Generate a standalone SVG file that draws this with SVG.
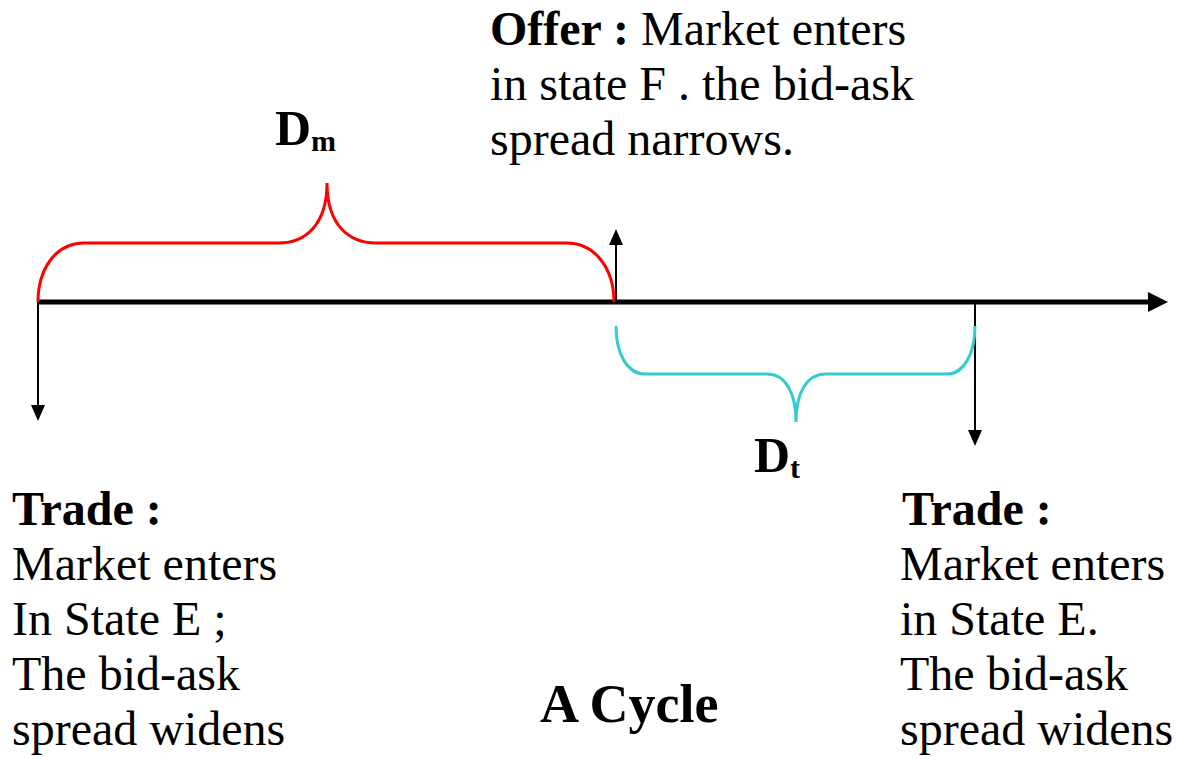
<svg xmlns="http://www.w3.org/2000/svg" width="1179" height="758" viewBox="0 0 1179 758">
  <style>
    text { font-family: "Liberation Serif", "Times New Roman", serif; fill: #000; }
    .t { font-size: 48px; }
    .b { font-weight: bold; }
    .thin { stroke: #000; stroke-width: 2; fill: none; }
    .head { fill: #000; stroke: none; }
    .brace { fill: none; stroke-width: 3; }
  </style>

  <g id="connectors">
    <!-- time axis -->
    <line x1="38" y1="302" x2="1150" y2="302" stroke="#000" stroke-width="5"/>
    <path class="head" d="M1168,302 L1148,292 L1148,312 Z"/>
    <!-- event markers -->
    <line class="thin" x1="38" y1="302" x2="38" y2="406"/>
    <path class="head" d="M38,421 L31,405 L45,405 Z"/>
    <line class="thin" x1="616" y1="302" x2="616" y2="244"/>
    <path class="head" d="M616,229 L609,245 L623,245 Z"/>
    <line class="thin" x1="975" y1="302" x2="975" y2="431"/>
    <path class="head" d="M975,446 L968,430 L982,430 Z"/>
  </g>

  <g id="brace-dm">
    <path class="brace" stroke="#FF0000" d="M38,302 C38,270 55,243 84,243 L279,243 C305,243 327,225 327,183 C327,225 349,243 376,243 L567,243 C596,243 614,270 614,302"/>
  </g>
  <g id="brace-dt">
    <path class="brace" stroke="#33CCCC" d="M616,326 C616,355 628,374 645,374 L767,374 C785,374 796,392 796,422 C796,392 807,374 826,374 L947,374 C963,374 975,355 975,326"/>
  </g>

  <g id="label-dm">
    <text class="b" x="275" y="145" font-size="50">D<tspan font-size="30" dy="6">m</tspan></text>
  </g>
  <g id="label-dt">
    <text class="b" x="754" y="472" font-size="50">D<tspan font-size="30" dy="6">t</tspan></text>
  </g>

  <g id="offer">
    <text class="t" x="490" y="45"><tspan class="b">Offer :</tspan> Market enters</text>
    <text class="t" x="490" y="100">in state F . the bid-ask</text>
    <text class="t" x="490" y="155">spread narrows.</text>
  </g>

  <g id="trade-left">
    <text class="t b" x="12" y="525">Trade :</text>
    <text class="t" x="12" y="580">Market enters</text>
    <text class="t" x="12" y="635">In State E ;</text>
    <text class="t" x="12" y="690">The bid-ask</text>
    <text class="t" x="12" y="745">spread widens</text>
  </g>

  <g id="trade-right">
    <text class="t b" x="902" y="525">Trade :</text>
    <text class="t" x="900" y="580">Market enters</text>
    <text class="t" x="900" y="635">in State E.</text>
    <text class="t" x="900" y="690">The bid-ask</text>
    <text class="t" x="900" y="745">spread widens</text>
  </g>

  <g id="title">
    <text class="b" x="540" y="722" font-size="54">A Cycle</text>
  </g>
</svg>
